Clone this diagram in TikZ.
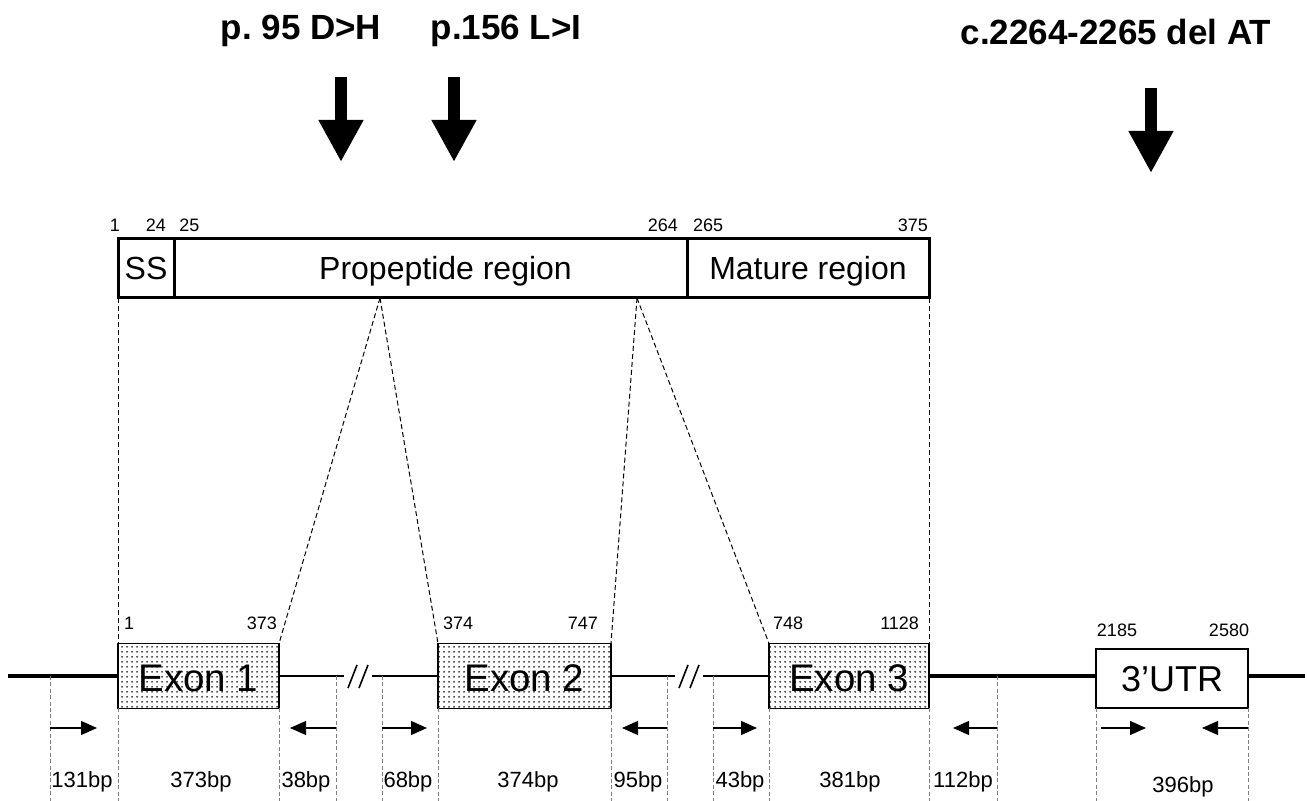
\documentclass[tikz,border=0pt]{standalone}
\usepackage{fontspec}
\setmainfont{Liberation Sans}
\usepackage{tikz}
\usetikzlibrary{arrows.meta,patterns}
\newcommand{\fsz}[1]{\fontsize{#1pt}{#1pt}\selectfont}
\pgfdeclarepatternformonly{finedots}{\pgfpointorigin}{\pgfpoint{2.3pt}{2.3pt}}%
  {\pgfpoint{2.3pt}{2.3pt}}{\pgfpathcircle{\pgfpoint{1.15pt}{1.15pt}}{0.55pt}\pgfusepath{fill}}

\begin{document}
\begin{tikzpicture}[x=0.5pt,y=-0.5pt,
    every node/.style={inner sep=0pt,outer sep=0pt},
    pbox/.style={draw,line width=1.5pt,minimum height=29.5pt,font=\fsz{16},
      text height=12pt,text depth=0.5pt},
    exonbox/.style={draw,line width=0.8pt,minimum height=32.5pt,
      pattern=finedots,pattern color=black!75,font=\fsz{19.25},
      text height=16.5pt,text depth=0.5pt},
    utrbox/.style={draw,line width=0.8pt,minimum height=29.5pt,font=\fsz{18},
      text height=14pt,text depth=0.5pt},
    num/.style={font=\fsz{9}},
    bp/.style={font=\fsz{11},anchor=base},
    mut/.style={font=\bfseries\fsz{17.5},anchor=base},
    bigarrow/.style={line width=6pt,-{Triangle[length=21pt,width=21pt]}},
    primer/.style={line width=0.65pt,-{Triangle[length=8pt,width=7pt]}},
    guide/.style={line width=0.5pt,dash pattern=on 2.5pt off 1.5pt},
    drop/.style={gray,line width=0.5pt,dash pattern=on 2pt off 1.2pt},
    gene/.style={line width=2pt},
    intron/.style={line width=0.8pt}]
  \useasboundingbox (0,0) rectangle (1307,801);

  % mutations
  \node[mut] (m1) at (301,40) {p.\ 95 D>H};
  \node[mut] (m2) at (506,40) {p.156 L>I};
  \node[mut] (m3) at (1116,45) {c.2264-2265 del AT};
  \draw[bigarrow] (341,77) -- (341,162);
  \draw[bigarrow] (454,77) -- (454,162);
  \draw[bigarrow] (1151,88) -- (1151,173);

  % protein
  \node[pbox,minimum width=28pt]    (ss)  at (146,268.5) {SS};
  \node[pbox,minimum width=256.5pt] (pro) at (430.5,268.5) {\hspace*{15pt}Propeptide region};
  \node[pbox,minimum width=121pt]   (mat) at (808,268.5) {Mature region};
  \node[num,anchor=base] (a1) at (115,232) {1};
  \node[num,anchor=base] (a24) at (156,232) {24};
  \node[num,anchor=base] (a25) at (189.5,232) {25};
  \node[num,anchor=base east] (a264) at (678,232) {264};
  \node[num,anchor=base west] (a265) at (693,232) {265};
  \node[num,anchor=base east] (a375) at (928,232) {375};

  % gene
  \node[exonbox,minimum width=80.5pt] (exon1) at (198.5,676) {Exon 1};
  \node[exonbox,minimum width=86.5pt] (exon2) at (524.5,676) {Exon 2};
  \node[exonbox,minimum width=80pt]   (exon3) at (849,676) {Exon 3};
  \node[utrbox,minimum width=76pt]    (utr)   at (1172,678.5) {3’UTR};
  \node[num,anchor=base west] (e1) at (124,630) {1};
  \node[num,anchor=base east] (e373) at (277,630) {373};
  \node[num,anchor=base west] (e374) at (443,630) {374};
  \node[num,anchor=base east] (e747) at (598,630) {747};
  \node[num,anchor=base west] (e748) at (773,630) {748};
  \node[num,anchor=base east] (e1128) at (919,630) {1128};
  \node[num,anchor=base] (u2185) at (1117,637) {2185};
  \node[num,anchor=base] (u2580) at (1229,637) {2580};

  \coordinate (g0) at (8,676);
  \coordinate (g1) at (1305,676);
  \coordinate (i1a) at (344,676);
  \coordinate (i1b) at (372,676);
  \coordinate (i2a) at (675,676);
  \coordinate (i2b) at (703,676);
  \draw[gene] (g0) -- (exon1.west);
  \draw[gene] (exon3.east) -- (exon3.east -| utr.west);
  \draw[gene] (exon3.east -| utr.east) -- (g1);
  \draw[intron] (exon1.east) -- (i1a);
  \draw[intron] (i1b) -- (exon2.west);
  \draw[intron] (exon2.east) -- (i2a);
  \draw[intron] (i2b) -- (exon3.west);
  \draw[intron] (348,688) -- (357,665) (359,688) -- (368,665);
  \draw[intron] (679,688) -- (688,665) (690,688) -- (699,665);

  % protein to exons
  \coordinate (ap1) at (380,298);
  \coordinate (ap2) at (637,298);
  \draw[guide] (ss.south west) -- (exon1.north west);
  \draw[guide] (ap1) -- (exon1.north east);
  \draw[guide] (ap1) -- (exon2.north west);
  \draw[guide] (ap2) -- (exon2.north east);
  \draw[guide] (ap2) -- (exon3.north west);
  \draw[guide] (mat.south east) -- (exon3.north east);

  % primers
  \coordinate (bot) at (0,801);
  \coordinate (pr) at (0,728);
  \coordinate (s1) at (50,676);
  \coordinate (s2) at (336,676);
  \coordinate (s3) at (382,676);
  \coordinate (s4) at (667,676);
  \coordinate (s5) at (713,676);
  \coordinate (s6) at (997,676);
  \foreach \c in {s1,s2,s3,s4,s5,s6}
    \draw[drop] (\c) -- (\c |- bot);
  \foreach \c in {exon1.south west,exon1.south east,exon2.south west,
      exon2.south east,exon3.south west,exon3.south east,
      utr.south west,utr.south east}
    \draw[drop] (\c) -- (\c |- bot);
  \draw[primer] (s1 |- pr) -- ++(47,0);
  \draw[primer] (s2 |- pr) -- ++(-46,0);
  \draw[primer] (s3 |- pr) -- ++(45,0);
  \draw[primer] (s4 |- pr) -- ++(-45,0);
  \draw[primer] (s5 |- pr) -- ++(44,0);
  \draw[primer] (s6 |- pr) -- ++(-44,0);
  \draw[primer] ([xshift=2.5pt]utr.south west |- pr) -- ++(45,0);
  \draw[primer] (utr.south east |- pr) -- ++(-46,0);

  % amplicon sizes
  \node[bp] (b1) at (82,787) {131bp};
  \node[bp] (b2) at (201,787) {373bp};
  \node[bp] (b3) at (306,787) {38bp};
  \node[bp] (b4) at (408,787) {68bp};
  \node[bp] (b5) at (528,787) {374bp};
  \node[bp] (b6) at (638,787) {95bp};
  \node[bp] (b7) at (740,787) {43bp};
  \node[bp] (b8) at (850,787) {381bp};
  \node[bp] (b9) at (963,787) {112bp};
  \node[bp] (b10) at (1183,792) {396bp};
\end{tikzpicture}
\end{document}
